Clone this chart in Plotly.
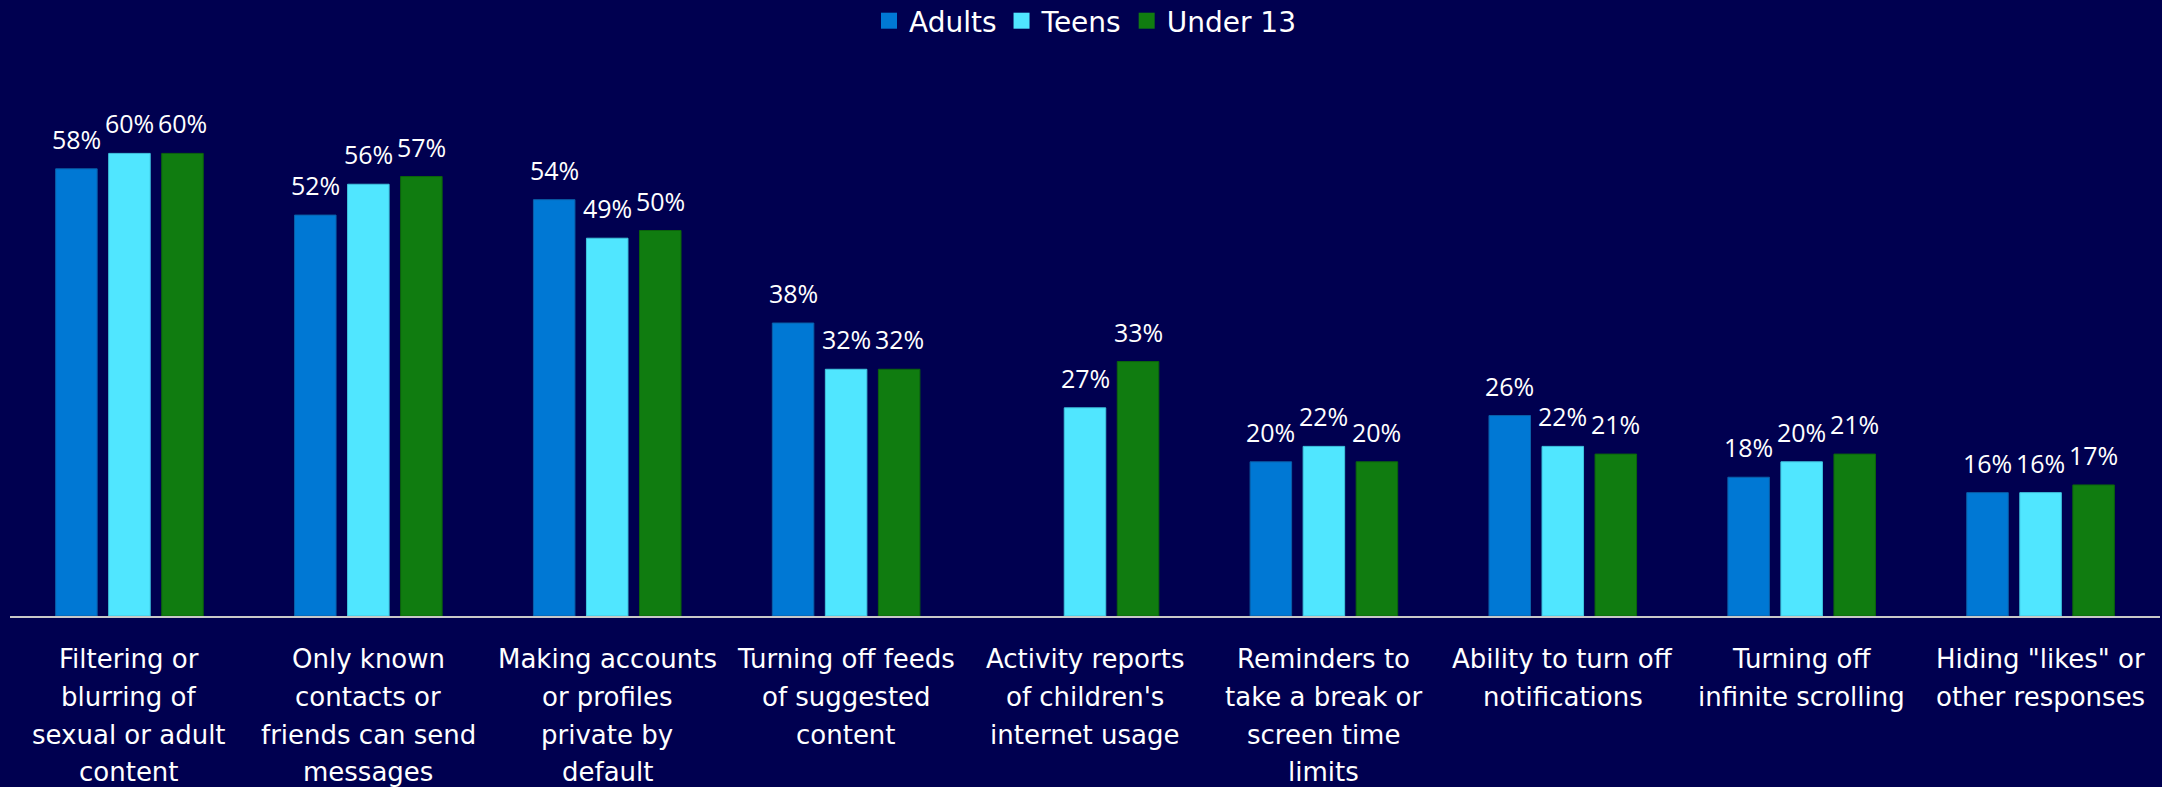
import plotly.graph_objects as go

categories = [
    "Filtering or\nblurring of\nsexual or adult\ncontent",
    "Only known\ncontacts or\nfriends can send\nmessages",
    "Making accounts\nor profiles\nprivate by\ndefault",
    "Turning off feeds\nof suggested\ncontent",
    "Activity reports\nof children's\ninternet usage",
    "Reminders to\ntake a break or\nscreen time\nlimits",
    "Ability to turn off\nnotifications",
    "Turning off\ninfinite scrolling",
    "Hiding \"likes\" or\nother responses",
]
series_names = ["Adults", "Teens", "Under 13"]
adults = [58, 52, 54, 38, None, 20, 26, 18, 16]
teens = [60, 56, 49, 32, 27, 22, 22, 20, 16]
under13 = [60, 57, 50, 32, 33, 20, 21, 21, 17]

colors = ["#0078D4", "#50E6FF", "#107C10"]
edge_colors = ["#0A5FA8", "#3FC4DE", "#0C640C"]
BG = "#000050"

W, H = 2162, 787
ML, MR, MT, MB = 10, 2, 60, 171
PX_PER_PCT = 7.71
plot_h = H - MT - MB
y_max = plot_h / PX_PER_PCT

cat_keys = [c.replace("\n", " ") for c in categories]
cat_w_px = (W - ML - MR) / len(categories)
bargap = 0.334
bargroupgap = 0.217
slot_px = cat_w_px * (1 - bargap) / 3

fig = go.Figure()
all_series = [adults, teens, under13]
for name, vals, col, ec in zip(series_names, all_series, colors, edge_colors):
    fig.add_trace(go.Bar(
        x=cat_keys, y=vals, name=name,
        marker=dict(color=col, line=dict(color=ec, width=1)),
        showlegend=False, hoverinfo="skip",
    ))
# legend entries
for name, col in zip(series_names, colors):
    fig.add_trace(go.Scatter(
        x=[None], y=[None], mode="markers", name=name,
        marker=dict(symbol="square", size=16, color=col),
        showlegend=True,
    ))

annotations = []
# data labels
for j, vals in enumerate(all_series):
    for k, v in zip(cat_keys, vals):
        if v is None:
            continue
        annotations.append(dict(
            x=k, y=v, xref="x", yref="y", text=f"{v}%",
            showarrow=False, yanchor="bottom", xanchor="center",
            xshift=(j - 1) * slot_px, yshift=11,
            font=dict(family="Open Sans", size=25, color="#FFFFFF"),
        ))
# category labels (one annotation per line for wider line spacing)
LINE_SP = 37.8
FIRST = 43
for k, c in zip(cat_keys, categories):
    for i, line in enumerate(c.split("\n")):
        annotations.append(dict(
            x=k, y=0, xref="x", yref="paper", text=line,
            showarrow=False, yanchor="middle", xanchor="center",
            yshift=-(FIRST + i * LINE_SP),
            font=dict(family="DejaVu Sans", size=26, color="#FFFFFF"),
        ))

fig.update_layout(
    width=W, height=H,
    paper_bgcolor=BG, plot_bgcolor=BG,
    margin=dict(l=ML, r=MR, t=MT, b=MB, pad=0),
    barmode="group", bargap=bargap, bargroupgap=bargroupgap,
    showlegend=True,
    legend=dict(
        orientation="h", x=0.5, xanchor="center",
        yref="container", y=1 - 21 / H, yanchor="middle",
        font=dict(family="DejaVu Sans", size=28, color="#FFFFFF"),
        bgcolor="rgba(0,0,0,0)", itemclick=False, itemdoubleclick=False,
    ),
    xaxis=dict(
        type="category", categoryorder="array", categoryarray=cat_keys,
        showticklabels=False, showgrid=False, zeroline=False,
        showline=True, linecolor="#C8C8C8", linewidth=2, ticks="",
        fixedrange=True,
    ),
    yaxis=dict(
        range=[0, y_max], visible=False, showgrid=False, zeroline=False,
        fixedrange=True,
    ),
    annotations=annotations,
)

fig.write_html(
    "out.html",
    config={"displayModeBar": False},
    post_script="document.body.style.margin='0';document.body.style.overflow='hidden';document.body.style.background='#000050';",
)
